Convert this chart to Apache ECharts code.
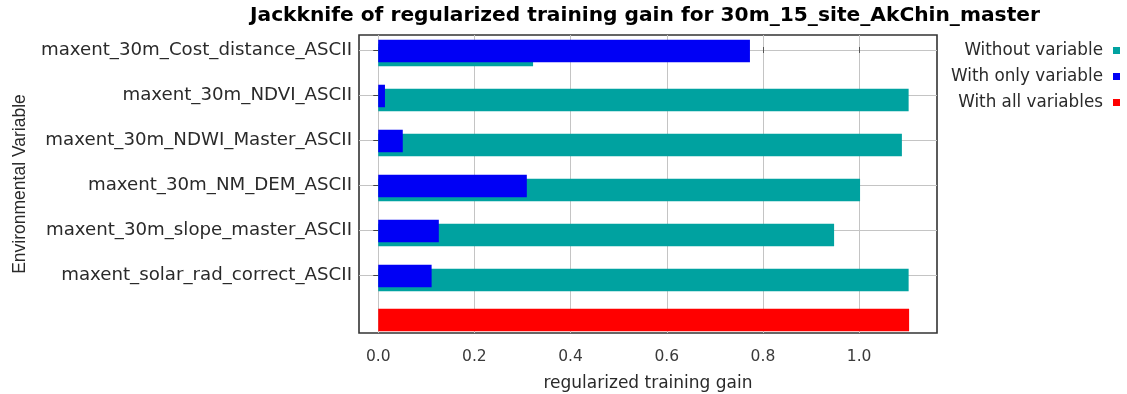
<!DOCTYPE html>
<html>
<head>
<meta charset="utf-8">
<title>Jackknife of regularized training gain</title>
<script src="https://cdn.jsdelivr.net/npm/echarts@6/dist/echarts.min.js"></script>
<style>
  html, body { margin: 0; padding: 0; background: #ffffff; }
  #chart { width: 1127px; height: 394px; }
</style>
</head>
<body>
<div id="chart"></div>
<script>
// Environmental variables tested by the jackknife
const categories = [
  'maxent_30m_Cost_distance_ASCII',
  'maxent_30m_NDVI_ASCII',
  'maxent_30m_NDWI_Master_ASCII',
  'maxent_30m_NM_DEM_ASCII',
  'maxent_30m_slope_master_ASCII',
  'maxent_solar_rad_correct_ASCII'
];
// Regularized training gain of the model built without each variable
const withoutVariable = [0.322, 1.103, 1.089, 1.002, 0.948, 1.103];
// Regularized training gain of the model built with each variable alone
const withOnlyVariable = [0.773, 0.014, 0.051, 0.309, 0.126, 0.111];
// Regularized training gain of the full model
const withAllVariables = [1.104];
// Tick values on the gain axis
const gainTicks = [0, 0.2, 0.4, 0.6, 0.8, 1.0];
const seriesNames = ['Without variable', 'With only variable', 'With all variables'];

const rowTicks = categories.map((c, i) => i);
const allRow = categories.length;

// Horizontal bar drawn from 0 to the value on its row, nudged vertically by a few pixels
function barRenderer(shiftPx) {
  return function (params, api) {
    const row = api.value(1);
    const base = api.coord([0, row]);
    const tip = api.coord([api.value(0), row]);
    const h = api.size([0, 1])[1] * 0.5;
    return {
      type: 'rect',
      shape: { x: base[0], y: base[1] - h / 2 + shiftPx, width: tip[0] - base[0], height: h },
      style: api.style()
    };
  };
}

const xRange = { min: -0.040, max: 1.162 };
const yRange = { min: -0.333, max: 6.289 };
const labelFont = 'DejaVu Sans';

const chart = echarts.init(document.getElementById('chart'), null, { renderer: 'canvas' });
chart.setOption({
  backgroundColor: '#ffffff',
  animation: false,
  title: {
    text: 'Jackknife of regularized training gain for 30m_15_site_AkChin_master',
    left: 250,
    top: 6,
    padding: 0,
    textStyle: { fontFamily: labelFont, fontWeight: 'bold', fontSize: 20.2, color: '#000000' }
  },
  legend: {
    orient: 'vertical',
    align: 'right',
    right: 7,
    top: 42,
    itemWidth: 7,
    itemHeight: 7,
    itemGap: 9,
    padding: 0,
    data: seriesNames.map(n => ({ name: n, icon: 'rect' })),
    textStyle: { fontFamily: labelFont, fontSize: 16.8, lineHeight: 17, color: '#2a2a2a', padding: [0, 5, 0, 0] }
  },
  grid: {
    left: 359, right: 190, top: 35, bottom: 61,
    outerBoundsMode: 'none',
    show: true, backgroundColor: '#ffffff', borderColor: '#333333', borderWidth: 1.6
  },
  xAxis: [
    {
      type: 'value', min: xRange.min, max: xRange.max,
      name: 'regularized training gain', nameLocation: 'middle', nameGap: 42,
      nameTextStyle: { fontFamily: labelFont, fontSize: 17, color: '#2a2a2a' },
      axisLine: { show: false },
      axisTick: { show: true, inside: false, length: 3, customValues: gainTicks, lineStyle: { color: '#555555' } },
      axisLabel: {
        customValues: gainTicks, margin: 16,
        fontFamily: labelFont, fontSize: 15.5, color: '#3a3a3a',
        formatter: v => v.toFixed(1)
      },
      splitLine: { show: true, lineStyle: { color: '#c4c4c4', width: 1 } }
    },
    {
      type: 'value', position: 'top', min: xRange.min, max: xRange.max,
      axisLine: { show: false },
      axisTick: { show: true, inside: false, length: 3, customValues: gainTicks, lineStyle: { color: '#555555' } },
      axisLabel: { show: false },
      splitLine: { show: false }
    }
  ],
  yAxis: [
    {
      type: 'value', inverse: true, min: yRange.min, max: yRange.max,
      name: 'Environmental Variable', nameLocation: 'middle', nameGap: 330,
      nameTextStyle: { fontFamily: 'Liberation Sans', fontSize: 17.5, color: '#2a2a2a' },
      axisLine: { show: false },
      axisTick: { show: true, inside: true, length: 6, customValues: rowTicks, lineStyle: { color: '#444444' } },
      axisLabel: {
        customValues: rowTicks, margin: 7,
        fontFamily: labelFont, fontSize: 18.2, color: '#2a2a2a',
        formatter: v => categories[Math.round(v)] || ''
      },
      splitLine: { show: true, lineStyle: { color: '#c4c4c4', width: 1 } }
    },
    {
      type: 'value', position: 'right', inverse: true, min: yRange.min, max: yRange.max,
      axisLine: { show: false },
      axisTick: { show: true, inside: true, length: 5, customValues: rowTicks, lineStyle: { color: '#444444' } },
      axisLabel: { show: false },
      splitLine: { show: false }
    }
  ],
  series: [
    {
      name: seriesNames[0], type: 'custom', xAxisIndex: 0, yAxisIndex: 0,
      renderItem: barRenderer(5),
      itemStyle: { color: '#00a2a0' },
      encode: { x: 0, y: 1 },
      data: withoutVariable.map((v, i) => [v, i])
    },
    {
      name: seriesNames[1], type: 'custom', xAxisIndex: 0, yAxisIndex: 0,
      renderItem: barRenderer(1),
      itemStyle: { color: '#0000f5' },
      encode: { x: 0, y: 1 },
      data: withOnlyVariable.map((v, i) => [v, i])
    },
    {
      name: seriesNames[2], type: 'custom', xAxisIndex: 0, yAxisIndex: 0,
      renderItem: barRenderer(0),
      itemStyle: { color: '#ff0000' },
      encode: { x: 0, y: 1 },
      data: withAllVariables.map(v => [v, allRow])
    }
  ]
});
</script>
</body>
</html>
